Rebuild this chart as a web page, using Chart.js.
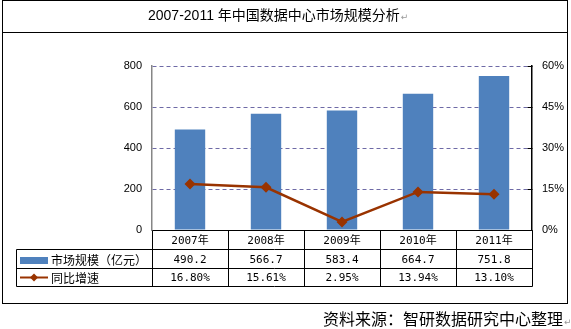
<!DOCTYPE html>
<html>
<head>
<meta charset="utf-8">
<script src="https://cdn.jsdelivr.net/npm/chart.js@4/dist/chart.umd.min.js"></script>
<style>
  html, body { margin: 0; padding: 0; background: #fff; }
  #wrap { width: 571px; height: 329px; position: relative; }
</style>
</head>
<body>
<div id="wrap"><canvas id="c" width="571" height="329"></canvas></div>
<script>
// Data
const categories = ['2007年', '2008年', '2009年', '2010年', '2011年'];
const marketSize = [490.2, 566.7, 583.4, 664.7, 751.8];   // 亿元
const growthRate = [16.80, 15.61, 2.95, 13.94, 13.10];    // %
const seriesNames = ['市场规模（亿元）', '同比增速'];
const titleText = '2007-2011 年中国数据中心市场规模分析';
const sourceText = '资料来源：智研数据研究中心整理';

const BAR_COLOR = '#4F81BD';
const LINE_COLOR = '#993300';
const GRID_COLOR = '#6E6AA6';
const CJK = "'Noto Sans CJK SC'";

// Frame, title, data table and source note drawn around the plot
const framePlugin = {
  id: 'frameAndTable',
  afterDraw(chart) {
    const ctx = chart.ctx;
    const area = chart.chartArea;
    const x = chart.scales.x;
    const y1 = chart.scales.y1;
    const n = categories.length;
    const colW = (x.getPixelForValue(1) - x.getPixelForValue(0));
    const left = Math.round(area.left) + 0.5;
    const right = Math.round(area.right) + 0.5;
    const tableLeft = 16.5;
    const r0 = Math.round(area.bottom) + 0.5;
    const r1 = r0 + 19, r2 = r1 + 19, r3 = r2 + 18;

    ctx.save();
    // small inward ticks on the right axis
    ctx.strokeStyle = '#000';
    ctx.lineWidth = 1;
    ctx.beginPath();
    y1.ticks.forEach((t) => {
      const ty = Math.round(y1.getPixelForValue(t.value)) + 0.5;
      ctx.moveTo(right - 5, ty); ctx.lineTo(right, ty);
    });
    ctx.stroke();

    // outer frame
    ctx.strokeRect(2.5, 0.5, 565, 303);
    ctx.beginPath();
    ctx.moveTo(2.5, 32.5); ctx.lineTo(567.5, 32.5);
    ctx.stroke();

    // title
    ctx.fillStyle = '#000';
    ctx.textBaseline = 'middle';
    ctx.textAlign = 'left';
    ctx.font = "14px 'Liberation Sans', " + CJK;
    ctx.fillText(titleText, 148, 16);
    let tw = ctx.measureText(titleText).width;
    ctx.fillStyle = '#999';
    ctx.font = "9px 'DejaVu Sans'";
    ctx.fillText('↵', 148 + tw + 1, 18);

    // table grid
    ctx.strokeStyle = '#000';
    ctx.beginPath();
    ctx.moveTo(left, r0); ctx.lineTo(right, r0);
    ctx.moveTo(tableLeft, r1); ctx.lineTo(right, r1);
    ctx.moveTo(tableLeft, r2); ctx.lineTo(right, r2);
    ctx.moveTo(tableLeft, r3); ctx.lineTo(right, r3);
    ctx.moveTo(tableLeft, r1); ctx.lineTo(tableLeft, r3);
    for (let i = 0; i <= n; i++) {
      const bx = Math.round(x.getPixelForValue(i) - colW / 2) + 0.5;
      ctx.moveTo(bx, r0); ctx.lineTo(bx, r3);
    }
    ctx.stroke();

    // table text
    ctx.fillStyle = '#000';
    ctx.textAlign = 'center';
    ctx.textBaseline = 'middle';
    ctx.font = "11px 'DejaVu Sans Mono', " + CJK;
    for (let i = 0; i < n; i++) {
      const cx = x.getPixelForValue(i);
      ctx.fillText(categories[i], cx, (r0 + r1) / 2 + 1);
      ctx.fillText(marketSize[i].toFixed(1), cx, (r1 + r2) / 2 + 1);
      ctx.fillText(growthRate[i].toFixed(2) + '%', cx, (r2 + r3) / 2 + 1);
    }

    // legend keys inside the table
    ctx.fillStyle = BAR_COLOR;
    ctx.fillRect(20, r1 + 7.5, 28, 7);
    const ly = (r2 + r3) / 2;
    ctx.strokeStyle = LINE_COLOR;
    ctx.lineWidth = 2;
    ctx.beginPath(); ctx.moveTo(20, ly); ctx.lineTo(48, ly); ctx.stroke();
    ctx.fillStyle = LINE_COLOR;
    ctx.beginPath();
    ctx.moveTo(34, ly - 4); ctx.lineTo(38, ly); ctx.lineTo(34, ly + 4); ctx.lineTo(30, ly);
    ctx.closePath(); ctx.fill();

    ctx.fillStyle = '#000';
    ctx.textAlign = 'left';
    ctx.font = "12px " + CJK;
    ctx.fillText(seriesNames[0], 51, (r1 + r2) / 2 + 1);
    ctx.fillText(seriesNames[1], 51, (r2 + r3) / 2 + 1);

    // source note
    ctx.font = "16px " + CJK;
    ctx.textBaseline = 'alphabetic';
    ctx.fillText(sourceText, 323, 325);
    tw = ctx.measureText(sourceText).width;
    ctx.fillStyle = '#999';
    ctx.font = "9px 'DejaVu Sans'";
    ctx.fillText('↵', 323 + tw + 1, 325);
    ctx.restore();
  }
};

new Chart(document.getElementById('c'), {
  type: 'bar',
  data: {
    labels: categories,
    datasets: [
      {
        type: 'line',
        label: seriesNames[1],
        data: growthRate,
        yAxisID: 'y1',
        borderColor: LINE_COLOR,
        backgroundColor: LINE_COLOR,
        borderWidth: 2.5,
        pointStyle: 'rectRot',
        pointRadius: 5.5,
        pointBorderWidth: 0,
        tension: 0,
        order: 0
      },
      {
        type: 'bar',
        label: seriesNames[0],
        data: marketSize,
        yAxisID: 'y',
        backgroundColor: BAR_COLOR,
        categoryPercentage: 1,
        barPercentage: 0.4,
        order: 1
      }
    ]
  },
  options: {
    responsive: false,
    animation: false,
    events: [],
    layout: { padding: { top: 66, bottom: 99, left: 0, right: 0 } },
    plugins: { legend: { display: false }, tooltip: { enabled: false }, title: { display: false } },
    scales: {
      x: { display: false, offset: true },
      y: {
        position: 'left',
        min: 0, max: 800,
        ticks: { stepSize: 200, padding: 10, color: '#000', font: { family: "'Liberation Sans'", size: 11 } },
        grid: {
          drawTicks: false,
          color: (c) => c.tick && c.tick.value === 0 ? 'rgba(0,0,0,0)' : GRID_COLOR,
          lineWidth: 1
        },
        border: { color: '#868686', width: 1.5, dash: [4, 3] },
        afterFit: (s) => { s.width = 152; }
      },
      y1: {
        position: 'right',
        min: 0, max: 60,
        ticks: { stepSize: 15, padding: 10, color: '#000', callback: (v) => v + '%', font: { family: "'Liberation Sans'", size: 11 } },
        grid: { drawOnChartArea: false, drawTicks: false },
        border: { color: '#000', width: 1.5 },
        afterFit: (s) => { s.width = 39; }
      }
    }
  },
  plugins: [framePlugin]
});
</script>
</body>
</html>
